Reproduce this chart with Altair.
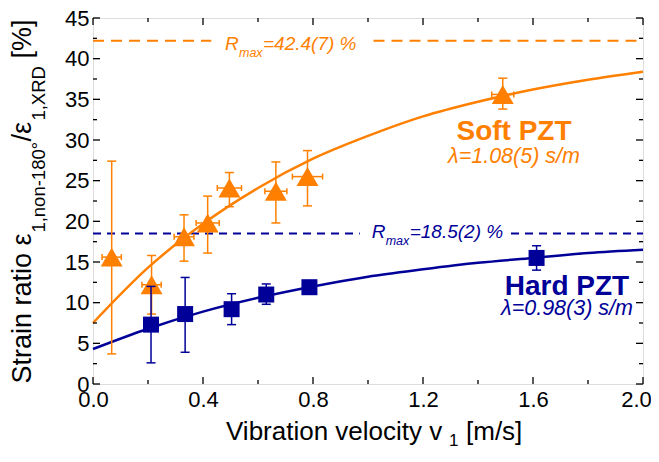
import altair as alt
import pandas as pd

# ---------------- data ----------------
# Soft PZT (orange triangles)
soft_v = [0.068, 0.213, 0.331, 0.417, 0.496, 0.665, 0.780, 1.490]
soft_r = [15.6, 12.2, 18.1, 19.8, 24.1, 23.7, 25.5, 35.6]
soft_r_lo = [3.7, 8.6, 15.1, 16.1, 21.8, 19.8, 21.9, 33.8]
soft_r_hi = [27.4, 15.8, 20.8, 23.1, 26.0, 27.3, 28.7, 37.6]
soft_v_err = [0.035, 0.035, 0.036, 0.042, 0.044, 0.040, 0.055, 0.040]

# Hard PZT (blue squares)
hard_v = [0.211, 0.335, 0.504, 0.630, 0.787, 1.613]
hard_r = [7.3, 8.6, 9.2, 11.0, 11.9, 15.5]
hard_r_lo = [2.6, 3.9, 7.3, 9.8, 11.1, 14.0]
hard_r_hi = [12.0, 13.1, 11.1, 12.3, 12.7, 17.0]

# fitted curves
fit_v = [0.0, 0.2, 0.4, 0.6, 0.8, 1.0, 1.2, 1.4, 1.6, 1.8, 2.0]
soft_fit = [7.5, 14.3, 19.7, 24.1, 27.7, 30.5, 32.9, 34.7, 36.2, 37.4, 38.4]
hard_fit = [4.3, 6.8, 8.9, 10.6, 12.0, 13.2, 14.1, 14.9, 15.5, 16.1, 16.5]

# saturation levels (dashed lines, broken around their labels)
soft_rmax = 42.2
hard_rmax = 18.5
soft_dash_x0 = [0.0, 1.02]
soft_dash_x1 = [0.43, 2.0]
hard_dash_x0 = [0.0, 1.52]
hard_dash_x1 = [0.97, 2.0]

# axis ticks
x_major = [0.0, 0.4, 0.8, 1.2, 1.6, 2.0]
x_minor = [0.2, 0.6, 1.0, 1.4, 1.8]
y_major = [0, 5, 10, 15, 20, 25, 30, 35, 40, 45]
y_minor = [2.5, 7.5, 12.5, 17.5, 22.5, 27.5, 32.5, 37.5, 42.5]

# texts
y_title_parts = ["Strain ratio \u03b5", "1,non-180\u00b0", "/\u03b5", "1,XRD", "[%]"]
x_title_parts = ["Vibration velocity v", "1", "[m/s]"]
soft_rmax_text = ["R", "max", "=42.4(7) %"]
hard_rmax_text = ["R", "max", "=18.5(2) %"]
soft_name = "Soft PZT"
soft_lambda = "\u03bb=1.08(5) s/m"
hard_name = "Hard PZT"
hard_lambda = "\u03bb=0.98(3) s/m"

# ---------------- styling ----------------
ORANGE = "#FF8000"
BLUE = "#000099"
FONT = "Liberation Sans"
W, H = 550, 366

xs = alt.Scale(domain=[0, 2], nice=False, zero=False)
ys = alt.Scale(domain=[0, 45], nice=False, zero=False)
XAX = alt.Axis(values=x_major, format=".1f", ticks=False, domain=False, grid=False,
               title=None, labelFlush=False, labelPadding=5, labelFontSize=22,
               labelOffset={"condition": {"test": "datum.value >= 2", "value": -7}, "value": 0},
               labelFont=FONT, labelColor="black")
YAX = alt.Axis(values=y_major, format="d", ticks=False, domain=False, grid=False,
               title=None, labelFlush=False, labelPadding=4, labelFontSize=22,
               labelFont=FONT, labelColor="black")


def X(f):
    return alt.X(f, scale=xs, axis=XAX)


def Y(f):
    return alt.Y(f, scale=ys, axis=YAX)


soft = pd.DataFrame({
    "v": soft_v, "r": soft_r, "lo": soft_r_lo, "hi": soft_r_hi,
    "vlo": [v - e for v, e in zip(soft_v, soft_v_err)],
    "vhi": [v + e for v, e in zip(soft_v, soft_v_err)],
})
hard = pd.DataFrame({"v": hard_v, "r": hard_r, "lo": hard_r_lo, "hi": hard_r_hi})
fits = pd.DataFrame({"v": fit_v, "soft": soft_fit, "hard": hard_fit})
soft_dash = pd.DataFrame({"x0": soft_dash_x0, "x1": soft_dash_x1, "r": [soft_rmax] * 2})
hard_dash = pd.DataFrame({"x0": hard_dash_x0, "x1": hard_dash_x1, "r": [hard_rmax] * 2})

layers = []

# dashed saturation lines
layers.append(alt.Chart(soft_dash).mark_rule(color=ORANGE, strokeWidth=2, strokeDash=[11, 7]).encode(
    x=X("x0:Q"), x2="x1:Q", y=Y("r:Q")))
layers.append(alt.Chart(hard_dash).mark_rule(color=BLUE, strokeWidth=2, strokeDash=[8, 6]).encode(
    x=X("x0:Q"), x2="x1:Q", y=Y("r:Q")))

# fit curves
layers.append(alt.Chart(fits).mark_line(color=ORANGE, strokeWidth=2.5, interpolate="monotone").encode(
    x=X("v:Q"), y=Y("soft:Q")))
layers.append(alt.Chart(fits).mark_line(color=BLUE, strokeWidth=2.5, interpolate="monotone").encode(
    x=X("v:Q"), y=Y("hard:Q")))


def errors(df, color, with_x):
    out = [
        alt.Chart(df).mark_rule(color=color, strokeWidth=1.5).encode(x=X("v:Q"), y=Y("lo:Q"), y2="hi:Q"),
        alt.Chart(df).mark_tick(color=color, orient="horizontal", size=9, thickness=1.5, opacity=1).encode(
            x=X("v:Q"), y=Y("lo:Q")),
        alt.Chart(df).mark_tick(color=color, orient="horizontal", size=9, thickness=1.5, opacity=1).encode(
            x=X("v:Q"), y=Y("hi:Q")),
    ]
    if with_x:
        out += [
            alt.Chart(df).mark_rule(color=color, strokeWidth=1.5).encode(x=X("vlo:Q"), x2="vhi:Q", y=Y("r:Q")),
            alt.Chart(df).mark_tick(color=color, orient="vertical", size=6, thickness=1.5, opacity=1).encode(
                x=X("vlo:Q"), y=Y("r:Q")),
            alt.Chart(df).mark_tick(color=color, orient="vertical", size=6, thickness=1.5, opacity=1).encode(
                x=X("vhi:Q"), y=Y("r:Q")),
        ]
    return out


layers += errors(soft, ORANGE, True)
layers.append(alt.Chart(soft).mark_point(shape="triangle-up", filled=True, size=480, color=ORANGE,
                                         opacity=1, strokeWidth=0).encode(x=X("v:Q"), y=Y("r:Q")))
layers += errors(hard, BLUE, False)
layers.append(alt.Chart(hard).mark_point(shape="square", filled=True, size=256, color=BLUE,
                                         opacity=1, strokeWidth=0).encode(x=X("v:Q"), y=Y("r:Q")))


# inward ticks on all four sides
def xticks(vals, a, b):
    return alt.Chart(pd.DataFrame({"t": vals})).mark_rule(color="black", strokeWidth=1.3).encode(
        x=X("t:Q"), y=alt.value(a), y2=alt.value(b))


def yticks(vals, a, b):
    return alt.Chart(pd.DataFrame({"t": vals})).mark_rule(color="black", strokeWidth=1.3).encode(
        y=Y("t:Q"), x=alt.value(a), x2=alt.value(b))


layers += [
    xticks(x_major, H, H - 7), xticks(x_minor, H, H - 4),
    xticks(x_major, 0, 7), xticks(x_minor, 0, 4),
    yticks(y_major, 0, 7), yticks(y_minor, 0, 4),
    yticks(y_major, W, W - 7), yticks(y_minor, W, W - 4),
]


def label(text, x, y, size, color="black", style="normal", weight="normal", align="left", angle=0):
    return alt.Chart(pd.DataFrame({"t": [text]})).mark_text(
        align=align, baseline="alphabetic", font=FONT, fontSize=size, fontStyle=style,
        fontWeight=weight, color=color, angle=angle).encode(
        text="t:N", x=alt.value(x), y=alt.value(y))


# y title (rotated, with subscripts)
layers += [
    label(y_title_parts[0], -62, 365.6, 27, angle=270),
    label(y_title_parts[1], -48, 214.6, 18.5, angle=270),
    label(y_title_parts[2], -62, 123.6, 27, angle=270),
    label(y_title_parts[3], -48, 102.6, 18.5, angle=270),
    label(y_title_parts[4], -62, 40.6, 27, angle=270),
]
# x title
layers += [
    label(x_title_parts[0], 133, 421.6, 26),
    label(x_title_parts[1], 356, 427.6, 17),
    label(x_title_parts[2], 373, 421.6, 26),
]
# R_max labels
layers += [
    label(soft_rmax_text[0], 132, 31.6, 19, ORANGE, "italic"),
    label(soft_rmax_text[1], 146, 38.6, 12.5, ORANGE, "italic"),
    label(soft_rmax_text[2], 170, 31.6, 19, ORANGE, "italic"),
    label(hard_rmax_text[0], 278.7, 219.9, 19, BLUE, "italic"),
    label(hard_rmax_text[1], 292.7, 226.9, 12.5, BLUE, "italic"),
    label(hard_rmax_text[2], 316.7, 219.9, 19, BLUE, "italic"),
]
# series names
layers += [
    label(soft_name, 421, 121.6, 28, ORANGE, weight="bold", align="center"),
    label(soft_lambda, 421, 144.6, 21.5, ORANGE, "italic", align="center"),
    label(hard_name, 474, 276.6, 28, BLUE, weight="bold", align="center"),
    label(hard_lambda, 474, 297.3, 21.5, BLUE, "italic", align="center"),
]

chart = alt.layer(*layers).properties(
    width=W, height=H,
    padding={"left": 85, "top": 10, "right": 8, "bottom": 65},
    autosize=alt.AutoSizeParams(type="none"),
).configure_view(stroke="black", strokeWidth=1.6).configure(background="white")

chart.save("out.html", embed_options={"renderer": "svg", "actions": False})
